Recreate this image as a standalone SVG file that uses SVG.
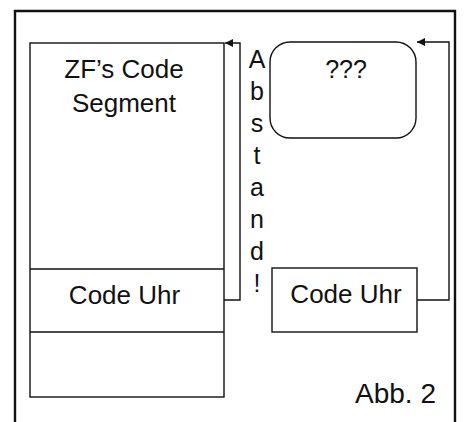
<svg xmlns="http://www.w3.org/2000/svg" width="466" height="422" viewBox="0 0 466 422">
  <defs>
    <marker id="arrow" viewBox="0 0 10 10" refX="10" refY="5" markerWidth="8" markerHeight="8" markerUnits="userSpaceOnUse" orient="auto">
      <path d="M0,0 L10,5 L0,10 Z" fill="#111"/>
    </marker>
    <style>
      .box { fill: #fff; stroke: #111; stroke-width: 1.4; }
      .wire { fill: none; stroke: #111; stroke-width: 1.4; }
      .lbl { font-family: "Liberation Sans", Arial, sans-serif; fill: #111; text-anchor: middle; }
    </style>
  </defs>
  <rect width="466" height="422" fill="#fff"/>

  <!-- open frame: top and two sides -->
  <path d="M15,422 L15,11 L455,11 L455,422" fill="none" stroke="#111" stroke-width="2.4"/>

  <!-- memory column on the left -->
  <g id="zf-segment">
    <rect class="box" x="30" y="43" width="194" height="354"/>
    <line class="wire" x1="30" y1="269" x2="224" y2="269"/>
    <line class="wire" x1="30" y1="332" x2="224" y2="332"/>
    <text class="lbl" x="124" y="78" font-size="26">ZF’s Code</text>
    <text class="lbl" x="124" y="112" font-size="26">Segment</text>
  </g>
  <g id="code-uhr-left">
    <text class="lbl" x="124.5" y="304" font-size="26">Code Uhr</text>
  </g>

  <!-- vertical distance label -->
  <g id="abstand">
    <text class="lbl" x="257" y="68" font-size="25">A</text>
    <text class="lbl" x="257" y="100" font-size="25">b</text>
    <text class="lbl" x="257" y="132" font-size="25">s</text>
    <text class="lbl" x="257" y="164" font-size="25">t</text>
    <text class="lbl" x="257" y="196" font-size="25">a</text>
    <text class="lbl" x="257" y="228" font-size="25">n</text>
    <text class="lbl" x="257" y="260" font-size="25">d</text>
    <text class="lbl" x="257" y="292" font-size="25">!</text>
  </g>

  <!-- unknown target -->
  <g id="unknown">
    <rect class="box" x="270" y="42" width="146" height="96" rx="20" ry="20"/>
    <text class="lbl" x="346" y="78" font-size="25">???</text>
  </g>

  <!-- relocated clock code -->
  <g id="code-uhr-right">
    <rect class="box" x="272" y="268" width="145" height="64"/>
    <text class="lbl" x="346" y="303" font-size="26">Code Uhr</text>
  </g>

  <g id="caption">
    <text class="lbl" x="395.5" y="403" font-size="28">Abb. 2</text>
  </g>

  <!-- jump connectors -->
  <g id="connectors">
    <path class="wire" d="M224,300 L240,300 L240,43 L225,43" marker-end="url(#arrow)"/>
    <path class="wire" d="M417,300 L449,300 L449,42 L417,42" marker-end="url(#arrow)"/>
  </g>
</svg>
